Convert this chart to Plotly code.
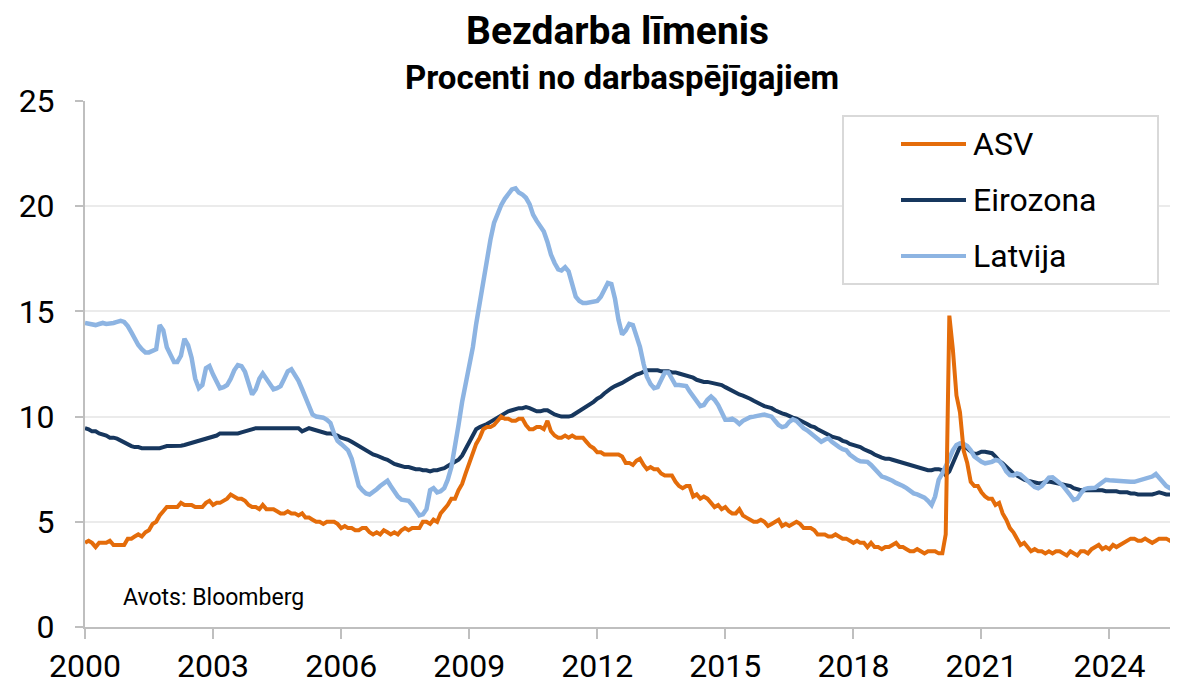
import pandas as pd
import plotly.graph_objects as go

# Monthly unemployment rates, %, Jan 2000 - Aug 2025
asv = [
    4.0, 4.1, 4.0, 3.8, 4.0, 4.0, 4.0, 4.1, 3.9, 3.9, 3.9, 3.9,   # 2000
    4.2, 4.2, 4.3, 4.4, 4.3, 4.5, 4.6, 4.9, 5.0, 5.3, 5.5, 5.7,   # 2001
    5.7, 5.7, 5.7, 5.9, 5.8, 5.8, 5.8, 5.7, 5.7, 5.7, 5.9, 6.0,   # 2002
    5.8, 5.9, 5.9, 6.0, 6.1, 6.3, 6.2, 6.1, 6.1, 6.0, 5.8, 5.7,   # 2003
    5.7, 5.6, 5.8, 5.6, 5.6, 5.6, 5.5, 5.4, 5.4, 5.5, 5.4, 5.4,   # 2004
    5.3, 5.4, 5.2, 5.2, 5.1, 5.0, 5.0, 4.9, 5.0, 5.0, 5.0, 4.9,   # 2005
    4.7, 4.8, 4.7, 4.7, 4.6, 4.6, 4.7, 4.7, 4.5, 4.4, 4.5, 4.4,   # 2006
    4.6, 4.5, 4.4, 4.5, 4.4, 4.6, 4.7, 4.6, 4.7, 4.7, 4.7, 5.0,   # 2007
    5.0, 4.9, 5.1, 5.0, 5.4, 5.6, 5.8, 6.1, 6.1, 6.5, 6.8, 7.3,   # 2008
    7.8, 8.3, 8.7, 9.0, 9.4, 9.5, 9.5, 9.6, 9.8, 10.0, 9.9, 9.9,  # 2009
    9.8, 9.8, 9.9, 9.9, 9.6, 9.4, 9.4, 9.5, 9.5, 9.4, 9.8, 9.3,   # 2010
    9.1, 9.0, 9.0, 9.1, 9.0, 9.1, 9.0, 9.0, 9.0, 8.8, 8.6, 8.5,   # 2011
    8.3, 8.3, 8.2, 8.2, 8.2, 8.2, 8.2, 8.1, 7.8, 7.8, 7.7, 7.9,   # 2012
    8.0, 7.7, 7.5, 7.6, 7.5, 7.5, 7.3, 7.2, 7.2, 7.2, 6.9, 6.7,   # 2013
    6.6, 6.7, 6.7, 6.2, 6.3, 6.1, 6.2, 6.1, 5.9, 5.7, 5.8, 5.6,   # 2014
    5.7, 5.5, 5.4, 5.4, 5.6, 5.3, 5.2, 5.1, 5.0, 5.0, 5.1, 5.0,   # 2015
    4.8, 4.9, 5.0, 5.1, 4.8, 4.9, 4.8, 4.9, 5.0, 4.9, 4.7, 4.7,   # 2016
    4.7, 4.6, 4.4, 4.4, 4.4, 4.3, 4.3, 4.4, 4.3, 4.2, 4.2, 4.1,   # 2017
    4.0, 4.1, 4.0, 4.0, 3.8, 4.0, 3.8, 3.8, 3.7, 3.8, 3.8, 3.9,   # 2018
    4.0, 3.8, 3.8, 3.7, 3.6, 3.6, 3.7, 3.6, 3.5, 3.6, 3.6, 3.6,   # 2019
    3.5, 3.5, 4.4, 14.8, 13.2, 11.0, 10.2, 8.4, 7.8, 6.9, 6.7, 6.7,  # 2020
    6.4, 6.2, 6.1, 6.1, 5.8, 5.9, 5.4, 5.1, 4.7, 4.5, 4.2, 3.9,   # 2021
    4.0, 3.8, 3.6, 3.7, 3.6, 3.6, 3.5, 3.6, 3.5, 3.6, 3.6, 3.5,   # 2022
    3.4, 3.6, 3.5, 3.4, 3.6, 3.6, 3.5, 3.7, 3.8, 3.9, 3.7, 3.8,   # 2023
    3.7, 3.9, 3.8, 3.9, 4.0, 4.1, 4.2, 4.2, 4.1, 4.1, 4.2, 4.1,   # 2024
    4.0, 4.1, 4.2, 4.2, 4.2, 4.1, 4.2, 4.3,                       # 2025
]

eirozona = [
    9.45, 9.4, 9.3, 9.3, 9.2, 9.15, 9.1, 9.0, 9.0, 8.95, 8.85, 8.8,        # 2000
    8.7, 8.6, 8.55, 8.55, 8.5, 8.5, 8.5, 8.5, 8.5, 8.5, 8.55, 8.6,          # 2001
    8.6, 8.6, 8.6, 8.62, 8.65, 8.7, 8.75, 8.8, 8.85, 8.9, 8.95, 9.0,        # 2002
    9.05, 9.1, 9.2, 9.2, 9.2, 9.2, 9.2, 9.2, 9.25, 9.3, 9.35, 9.4,          # 2003
    9.45, 9.45, 9.45, 9.45, 9.45, 9.45, 9.45, 9.45, 9.45, 9.45, 9.45, 9.45, # 2004
    9.45, 9.3, 9.35, 9.45, 9.4, 9.35, 9.3, 9.25, 9.2, 9.2, 9.15, 9.1,      # 2005
    9.0, 8.95, 8.9, 8.8, 8.7, 8.6, 8.5, 8.4, 8.3, 8.2, 8.15, 8.05,         # 2006
    8.0, 7.95, 7.85, 7.75, 7.7, 7.65, 7.6, 7.6, 7.55, 7.5, 7.5, 7.45,      # 2007
    7.45, 7.4, 7.45, 7.45, 7.5, 7.55, 7.65, 7.75, 7.85, 7.95, 8.15, 8.45,  # 2008
    8.75, 9.1, 9.4, 9.5, 9.55, 9.65, 9.75, 9.85, 9.95, 10.1, 10.2, 10.25,  # 2009
    10.3, 10.35, 10.4, 10.4, 10.45, 10.4, 10.35, 10.25, 10.25, 10.3, 10.3, 10.2,  # 2010
    10.1, 10.05, 10.0, 10.0, 10.0, 10.05, 10.15, 10.25, 10.35, 10.5, 10.6, 10.7,  # 2011
    10.85, 10.95, 11.1, 11.25, 11.35, 11.45, 11.55, 11.6, 11.7, 11.8, 11.9, 12.0, # 2012
    12.05, 12.15, 12.2, 12.2, 12.2, 12.2, 12.15, 12.15, 12.15, 12.1, 12.1, 12.05, # 2013
    12.0, 11.95, 11.9, 11.85, 11.75, 11.7, 11.65, 11.65, 11.6, 11.6, 11.55, 11.5, # 2014
    11.4, 11.3, 11.2, 11.15, 11.05, 11.0, 10.9, 10.85, 10.75, 10.65, 10.6, 10.5,  # 2015
    10.45, 10.4, 10.3, 10.2, 10.15, 10.1, 10.0, 9.95, 9.9, 9.8, 9.7, 9.65,        # 2016
    9.55, 9.5, 9.4, 9.3, 9.25, 9.15, 9.05, 9.0, 8.95, 8.85, 8.8, 8.7,            # 2017
    8.65, 8.6, 8.55, 8.45, 8.4, 8.3, 8.2, 8.1, 8.05, 8.0, 8.0, 7.95,             # 2018
    7.9, 7.85, 7.8, 7.75, 7.7, 7.65, 7.6, 7.55, 7.5, 7.45, 7.45, 7.5,            # 2019
    7.5, 7.45, 7.22, 7.4, 7.78, 8.2, 8.57, 8.57, 8.49, 8.35, 8.22, 8.25,         # 2020
    8.33, 8.33, 8.3, 8.26, 8.1, 7.9, 7.78, 7.6, 7.45, 7.3, 7.2, 7.1,             # 2021
    7.0, 6.95, 6.9, 6.85, 6.83, 6.85, 6.88, 6.91, 6.88, 6.85, 6.8, 6.78,         # 2022
    6.75, 6.7, 6.6, 6.55, 6.5, 6.5, 6.5, 6.5, 6.5, 6.5, 6.5, 6.45,               # 2023
    6.45, 6.45, 6.45, 6.4, 6.4, 6.4, 6.35, 6.35, 6.3, 6.3, 6.27, 6.27,           # 2024
    6.3, 6.35, 6.4, 6.35, 6.3, 6.3, 6.25, 6.2,                                   # 2025
]

latvija = [
    14.45, 14.4, 14.35, 14.35, 14.4, 14.45, 14.4, 14.4, 14.45, 14.5, 14.55, 14.5,  # 2000
    14.3, 14.0, 13.7, 13.4, 13.2, 13.05, 13.05, 13.1, 13.2, 14.35, 14.1, 13.3,     # 2001
    12.9, 12.6, 12.6, 12.9, 13.7, 13.4, 12.8, 11.8, 11.35, 11.5, 12.3, 12.4,      # 2002
    12.0, 11.6, 11.35, 11.4, 11.5, 11.8, 12.2, 12.45, 12.4, 12.13, 11.5, 11.05,   # 2003
    11.3, 11.8, 12.05, 11.8, 11.5, 11.3, 11.35, 11.45, 11.8, 12.15, 12.25, 12.0,  # 2004
    11.7, 11.3, 10.9, 10.5, 10.1, 10.0, 10.0, 9.95, 9.85, 9.7, 9.2, 8.85,         # 2005
    8.7, 8.55, 8.4, 8.0, 7.4, 6.7, 6.5, 6.35, 6.3, 6.4, 6.55, 6.7,                # 2006
    6.85, 6.95, 6.7, 6.4, 6.2, 6.05, 6.0, 6.0, 5.8, 5.5, 5.3, 5.35,               # 2007
    5.6, 6.5, 6.6, 6.4, 6.45, 6.6, 7.0, 7.6, 8.5, 9.6, 10.7, 11.5,                # 2008
    12.3, 13.3, 14.4, 15.5, 16.5, 17.5, 18.4, 19.2, 19.7, 20.05, 20.35, 20.6,     # 2009
    20.8, 20.85, 20.65, 20.55, 20.4, 20.1, 19.6, 19.3, 19.0, 18.8, 18.3, 17.7,    # 2010
    17.3, 17.0, 16.95, 17.1, 16.9, 16.2, 15.7, 15.5, 15.4, 15.4, 15.45, 15.45,    # 2011
    15.5, 15.7, 16.0, 16.35, 16.3, 15.6, 14.6, 13.9, 14.1, 14.4, 14.35, 13.8,     # 2012
    13.3, 12.5, 11.9, 11.55, 11.35, 11.4, 11.75, 12.1, 12.1, 11.8, 11.5, 11.5,    # 2013
    11.5, 11.45, 11.2, 10.95, 10.7, 10.5, 10.55, 10.8, 10.95, 10.8, 10.55, 10.2,  # 2014
    9.85, 9.85, 9.9, 9.8, 9.65, 9.8, 9.9, 9.97, 10.0, 10.05, 10.1, 10.1,          # 2015
    10.05, 10.0, 9.8, 9.6, 9.5, 9.55, 9.75, 9.87, 9.8, 9.6, 9.45, 9.35,           # 2016
    9.2, 9.05, 8.9, 8.8, 8.9, 8.97, 8.8, 8.65, 8.55, 8.45, 8.4, 8.2,              # 2017
    8.05, 7.95, 7.88, 7.85, 7.85, 7.7, 7.5, 7.3, 7.15, 7.1, 7.05, 6.95,           # 2018
    6.85, 6.8, 6.7, 6.6, 6.45, 6.35, 6.3, 6.25, 6.15, 6.0, 5.8, 6.2,              # 2019
    7.0, 7.3, 7.6, 8.0, 8.4, 8.65, 8.73, 8.7, 8.6, 8.4, 8.1, 7.95,                # 2020
    7.85, 7.78, 7.8, 7.85, 7.94, 7.9, 7.7, 7.4, 7.22, 7.2, 7.3, 7.25,             # 2021
    7.1, 6.91, 6.8, 6.65, 6.59, 6.7, 6.9, 7.1, 7.11, 7.0, 6.85, 6.7,              # 2022
    6.51, 6.25, 6.04, 6.1, 6.35, 6.55, 6.6, 6.6, 6.62, 6.75, 6.9, 7.0,            # 2023
    6.98, 6.96, 6.96, 6.96, 6.95, 6.92, 6.9, 6.9, 6.95, 7.0, 7.0, 7.05,           # 2024
    7.15, 7.27, 7.1, 6.86, 6.7, 6.6, 6.6, 6.6,                                    # 2025
]

assert len(asv) == len(eirozona) == len(latvija)
dates = pd.date_range("2000-01-01", periods=len(asv), freq="MS")

series_names = ["ASV", "Eirozona", "Latvija"]
colors = {"ASV": "#E46C0A", "Eirozona": "#17375E", "Latvija": "#8DB4E2"}
widths = {"ASV": 4, "Eirozona": 4, "Latvija": 4.5}
values = {"ASV": asv, "Eirozona": eirozona, "Latvija": latvija}
draw_order = ["Eirozona", "Latvija", "ASV"]

title_text = "Bezdarba līmenis"
subtitle_text = "Procenti no darbaspējīgajiem"
source_text = "Avots: Bloomberg"
year_ticks = list(range(2000, 2025, 3))

FONT = "Roboto, Arial, sans-serif"

# The page body has an 8 px margin, so the figure starts at (8, 8) in the window.
OFF = 8
FIG_W, FIG_H = 1178 - OFF, 685 - OFF
# plot-area geometry in window px
L, R, T, B = 85, 1177, 101, 627
W, H = R - L, B - T


def px_x(x):
    return (x - L) / W


def px_y(y):
    return (B - y) / H


fig = go.Figure()
for name in draw_order:
    fig.add_trace(go.Scatter(
        x=dates, y=values[name], mode="lines", name=name,
        line=dict(color=colors[name], width=widths[name]),
        showlegend=False, hoverinfo="skip",
    ))

shapes = [dict(type="rect", xref="paper", yref="paper",
               x0=px_x(843), x1=px_x(1158), y0=px_y(284), y1=px_y(116),
               line=dict(color="#D9D9D9", width=2), fillcolor="white", layer="above")]
annotations = [
    dict(text="<b>" + title_text + "</b>", xref="paper", yref="paper",
         x=px_x(617), y=px_y(31), xanchor="center", yanchor="middle", showarrow=False,
         font=dict(family=FONT, size=39, color="#000000")),
    dict(text="<b>" + subtitle_text + "</b>", xref="paper", yref="paper",
         x=px_x(622), y=px_y(78), xanchor="center", yanchor="middle", showarrow=False,
         font=dict(family=FONT, size=33, color="#000000")),
    dict(text=source_text, xref="paper", yref="paper",
         x=px_x(121), y=px_y(597), xanchor="left", yanchor="middle", showarrow=False,
         font=dict(family=FONT, size=23, color="#000000")),
]
legend_rows = [144, 200, 256]
for name, ry in zip(series_names, legend_rows):
    shapes.append(dict(type="line", xref="paper", yref="paper",
                       x0=px_x(901), x1=px_x(966), y0=px_y(ry), y1=px_y(ry),
                       line=dict(color=colors[name], width=4), layer="above"))
    annotations.append(dict(text=name, xref="paper", yref="paper",
                            x=px_x(971), y=px_y(ry), xanchor="left", yanchor="middle",
                            showarrow=False,
                            font=dict(family=FONT, size=32, color="#000000")))

fig.update_layout(
    width=FIG_W, height=FIG_H,
    margin=dict(l=L - OFF, r=1178 - R, t=T - OFF, b=685 - B),
    paper_bgcolor="white", plot_bgcolor="white",
    font=dict(family=FONT, color="#000000", size=28),
    showlegend=False,
    shapes=shapes,
    annotations=annotations,
)

fig.update_xaxes(
    type="date", automargin=False,
    range=[dates[0], dates[-1]],
    tickvals=[pd.Timestamp(f"{y}-01-01") for y in year_ticks],
    ticktext=[str(y) for y in year_ticks],
    ticks="outside", ticklen=10, tickwidth=2, tickcolor="#BFBFBF",
    showline=True, linecolor="#BFBFBF", linewidth=2,
    showgrid=False, zeroline=False,
    tickfont=dict(family=FONT, size=32, color="#000000"),
    ticklabelstandoff=0,
)
fig.update_yaxes(
    automargin=False,
    range=[0, 25], dtick=5, tick0=0,
    ticks="outside", ticklen=8, tickwidth=2, tickcolor="#BFBFBF",
    showline=True, linecolor="#BFBFBF", linewidth=2,
    showgrid=True, gridcolor="#EBEBEB", gridwidth=1.5,
    zeroline=False,
    tickfont=dict(family=FONT, size=32, color="#000000"),
    ticklabelstandoff=14,
)

fig.write_html("out.html")
